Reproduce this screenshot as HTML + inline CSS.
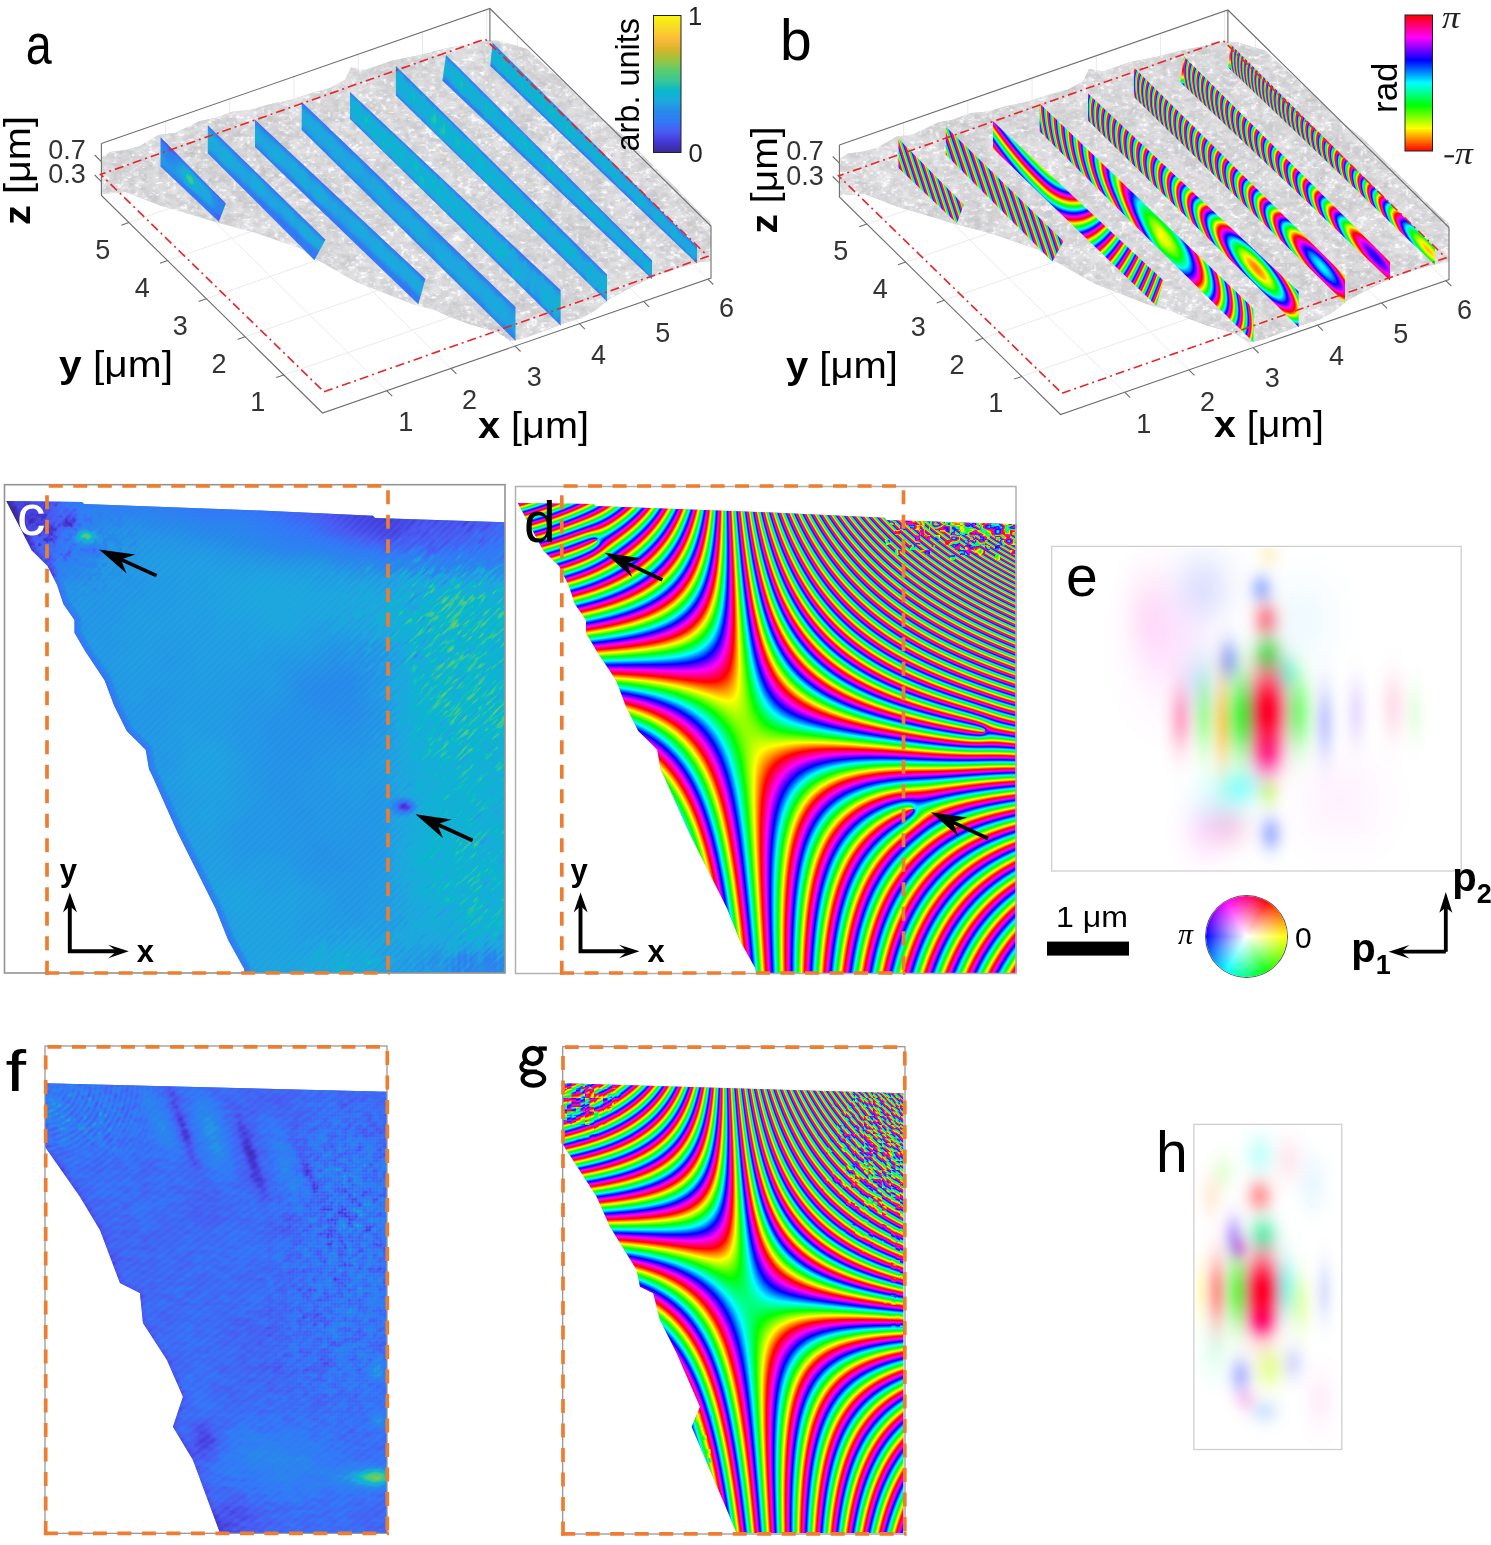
<!DOCTYPE html><html><head><meta charset="utf-8"><title>fig</title><style>html,body{margin:0;padding:0;background:#fff}#wrap{position:relative;width:1491px;height:1545px;overflow:hidden;background:#fff}#wrap>svg,#wrap>canvas,#wrap>div{position:absolute;left:0;top:0}.t{font-family:"Liberation Sans",sans-serif}</style></head><body><div id="wrap"><svg width="1491" height="1545"><g id="boxbase"><path d="M386.7,390.7L165.6,173.2M450.9,368.4L229.8,150.9M515.1,346.1L294.0,128.6M579.4,323.7L358.3,106.2M643.6,301.4L422.5,83.9M707.8,279.1L486.7,61.6M283.8,374.9L672.3,239.9M245.1,336.8L633.6,201.8M206.3,298.7L594.8,163.7M167.6,260.6L556.1,125.6M128.9,222.5L517.4,87.5M165.6,173.2v-52.0M229.8,150.9v-52.0M294.0,128.6v-52.0M358.3,106.2v-52.0M422.5,83.9v-52.0M486.7,61.6v-52.0M672.3,239.9v-52.0M633.6,201.8v-52.0M594.8,163.7v-52.0M556.1,125.6v-52.0M517.4,87.5v-52.0" stroke="#eaeaea" stroke-width="1" fill="none"/></g><use href="#boxbase" transform="translate(738,1.5)"/><polygon points="101.0,158.0 110.0,152.0 125.7,150.0 140.0,146.0 158.7,135.0 175.0,133.0 200.0,121.0 215.0,118.0 233.0,111.5 250.0,110.0 268.7,104.6 290.0,100.0 310.0,93.6 330.0,88.0 345.0,80.0 351.0,67.5 365.0,70.0 392.5,60.6 420.0,55.0 447.5,48.0 470.0,44.0 488.7,40.0 500.0,41.0 527.0,49.0 551.0,71.0 576.0,93.0 600.0,117.5 625.0,137.0 649.0,161.6 674.0,186.0 698.0,210.5 710.5,222.0 711.0,261.0 700.0,262.0 680.0,267.6 655.0,276.0 632.0,287.0 610.0,298.6 595.8,310.0 581.7,318.0 562.0,324.0 548.0,329.6 525.0,338.0 511.0,341.0 497.0,332.0 469.0,324.0 446.5,315.5 435.0,310.0 412.7,304.0 384.5,293.0 356.0,281.7 331.0,267.6 311.0,256.0 300.0,248.0 285.0,243.0 255.0,232.5 219.0,223.0 186.0,213.0 158.7,205.0 125.7,192.0 101.0,194.0" fill="#d6d6d6"/><polygon points="101.0,158.0 110.0,152.0 125.7,150.0 140.0,146.0 158.7,135.0 175.0,133.0 200.0,121.0 215.0,118.0 233.0,111.5 250.0,110.0 268.7,104.6 290.0,100.0 310.0,93.6 330.0,88.0 345.0,80.0 351.0,67.5 365.0,70.0 392.5,60.6 420.0,55.0 447.5,48.0 470.0,44.0 488.7,40.0 500.0,41.0 527.0,49.0 551.0,71.0 576.0,93.0 600.0,117.5 625.0,137.0 649.0,161.6 674.0,186.0 698.0,210.5 710.5,222.0 711.0,261.0 700.0,262.0 680.0,267.6 655.0,276.0 632.0,287.0 610.0,298.6 595.8,310.0 581.7,318.0 562.0,324.0 548.0,329.6 525.0,338.0 511.0,341.0 497.0,332.0 469.0,324.0 446.5,315.5 435.0,310.0 412.7,304.0 384.5,293.0 356.0,281.7 331.0,267.6 311.0,256.0 300.0,248.0 285.0,243.0 255.0,232.5 219.0,223.0 186.0,213.0 158.7,205.0 125.7,192.0 101.0,194.0" fill="#d6d6d6" transform="translate(738,1.5)"/><polygon points="160.5,137.2 160.5,166.4 218.8,221.7 225.9,203.6" fill="#2a92e4"/><polygon points="160.5,137.2 160.5,166.4 218.8,221.7 225.9,203.6" fill="#9a8aa8" transform="translate(738,1.5)"/><polygon points="207.8,125.2 207.8,153.3 314.4,260.0 325.5,239.8" fill="#2a92e4"/><polygon points="207.8,125.2 207.8,153.3 314.4,260.0 325.5,239.8" fill="#9a8aa8" transform="translate(738,1.5)"/><polygon points="255.0,119.7 255.0,147.0 418.3,304.2 425.4,278.9" fill="#2a92e4"/><polygon points="255.0,119.7 255.0,147.0 418.3,304.2 425.4,278.9" fill="#9a8aa8" transform="translate(738,1.5)"/><polygon points="301.7,101.9 301.7,130.0 515.5,340.8 515.5,307.0" fill="#2a92e4"/><polygon points="301.7,101.9 301.7,130.0 515.5,340.8 515.5,307.0" fill="#9a8aa8" transform="translate(738,1.5)"/><polygon points="350.0,92.0 350.0,119.0 560.6,325.4 560.6,290.0" fill="#2a92e4"/><polygon points="350.0,92.0 350.0,119.0 560.6,325.4 560.6,290.0" fill="#9a8aa8" transform="translate(738,1.5)"/><polygon points="395.9,66.1 395.9,95.5 607.0,301.4 607.0,274.6" fill="#2a92e4"/><polygon points="395.9,66.1 395.9,95.5 607.0,301.4 607.0,274.6" fill="#9a8aa8" transform="translate(738,1.5)"/><polygon points="446.0,55.0 442.4,80.8 652.0,278.9 652.0,260.6" fill="#2a92e4"/><polygon points="446.0,55.0 442.4,80.8 652.0,278.9 652.0,260.6" fill="#9a8aa8" transform="translate(738,1.5)"/><polygon points="492.6,42.8 490.2,66.1 697.0,263.4 697.0,246.5" fill="#2a92e4"/><polygon points="492.6,42.8 490.2,66.1 697.0,263.4 697.0,246.5" fill="#9a8aa8" transform="translate(738,1.5)"/><polygon points="6.3,501.0 82.0,502.0 84.0,504.0 260.0,510.6 373.0,515.8 375.0,518.0 505.0,522.3 505.0,973.0 244.5,973.0 244.1,968.8 228.3,940.2 215.6,908.5 196.6,870.5 177.6,832.4 152.2,775.4 149.0,769.0 145.8,750.0 139.5,743.6 126.8,731.0 114.1,705.6 104.6,680.2 85.6,651.7 74.5,632.7 74.5,620.0 63.4,604.1 57.1,585.1 47.6,566.1 31.7,550.2" fill="#2b9ae0"/><polygon points="517.8,503.0 593.5,504.0 595.5,506.0 771.5,512.6 884.5,517.8 886.5,520.0 1016.5,524.3 1016.5,973.0 756.0,973.0 755.6,968.8 739.8,940.2 727.1,908.5 708.1,870.5 689.1,832.4 663.7,775.4 660.5,769.0 657.3,750.0 651.0,743.6 638.3,731.0 625.6,705.6 616.1,680.2 597.1,651.7 586.0,632.7 586.0,620.0 574.9,604.1 568.6,585.1 559.1,566.1 543.2,550.2" fill="#a890a0"/><polygon points="45.0,1083.3 386.7,1091.7 386.7,1533.0 220.0,1533.0 193.0,1460.0 173.0,1426.7 183.0,1396.7 167.0,1360.0 143.0,1323.0 140.0,1293.0 120.0,1283.0 100.0,1230.0 80.0,1196.7 45.0,1146.7" fill="#3f70e8"/><polygon points="563.3,1083.3 903.3,1093.3 903.3,1533.0 736.7,1533.0 710.0,1470.0 691.7,1426.7 700.0,1406.7 676.7,1353.3 660.0,1320.0 653.3,1293.3 640.0,1286.7 636.7,1270.0 610.0,1226.7 596.7,1196.7 563.3,1145.0" fill="#a890a0"/></svg><canvas id="cv" width="1491" height="1545"></canvas><svg width="1491" height="1545" style="z-index:3"><defs><linearGradient id="gpar" x1="0" y1="1" x2="0" y2="0"><stop offset="0" stop-color="rgb(60,42,149)"/><stop offset="0.08" stop-color="rgb(68,56,216)"/><stop offset="0.15" stop-color="rgb(74,90,242)"/><stop offset="0.22" stop-color="rgb(51,120,248)"/><stop offset="0.3" stop-color="rgb(40,137,234)"/><stop offset="0.37" stop-color="rgb(31,166,224)"/><stop offset="0.45" stop-color="rgb(8,184,204)"/><stop offset="0.52" stop-color="rgb(53,199,154)"/><stop offset="0.6" stop-color="rgb(92,204,110)"/><stop offset="0.68" stop-color="rgb(159,196,62)"/><stop offset="0.75" stop-color="rgb(212,181,42)"/><stop offset="0.82" stop-color="rgb(251,184,56)"/><stop offset="0.9" stop-color="rgb(249,214,42)"/><stop offset="1" stop-color="rgb(249,248,15)"/></linearGradient><linearGradient id="ghsv" x1="0" y1="1" x2="0" y2="0"><stop offset="0.0000" stop-color="#ff0000"/><stop offset="0.1667" stop-color="#ffff00"/><stop offset="0.3333" stop-color="#00ff00"/><stop offset="0.5000" stop-color="#00ffff"/><stop offset="0.6667" stop-color="#0000ff"/><stop offset="0.8333" stop-color="#ff00ff"/><stop offset="1.0000" stop-color="#ff0000"/></linearGradient><marker id="ah" viewBox="0 0 10 10" refX="9" refY="5" markerWidth="6" markerHeight="6" orient="auto-start-reverse"><path d="M0,0L10,5L0,10L3,5z" fill="#000"/></marker></defs><g id="boxover"><path d="M101.4,143.5L101.4,195.5L322.5,413.0L711.0,278.0L711.0,226.0L489.9,8.5L101.4,143.5M489.9,8.5v33" stroke="#6e6e6e" stroke-width="1.1" fill="none"/><path d="M386.7,390.7l5.5,5.4M450.9,368.4l5.5,5.4M515.1,346.1l5.5,5.4M579.4,323.7l5.5,5.4M643.6,301.4l5.5,5.4M707.8,279.1l5.5,5.4M283.8,374.9l-7.6,2.7M245.1,336.8l-7.6,2.7M206.3,298.7l-7.6,2.7M167.6,260.6l-7.6,2.7M128.9,222.5l-7.6,2.7M101.4,161.6l-6.7,-6.6M101.4,181.6l-6.7,-6.6" stroke="#6e6e6e" stroke-width="1.1" fill="none"/><polygon points="324.0,391.8 708.0,256.3 485.0,39.0 100.6,174.4" fill="none" stroke="#e8262a" stroke-width="1.6" stroke-dasharray="9,4,2,4"/><text x="405.7" y="431.0" text-anchor="middle" style="font-family:Liberation Sans,sans-serif;fill:#333;font-size:27px">1</text><text x="469.4" y="409.0" text-anchor="middle" style="font-family:Liberation Sans,sans-serif;fill:#333;font-size:27px">2</text><text x="534.2" y="385.8" text-anchor="middle" style="font-family:Liberation Sans,sans-serif;fill:#333;font-size:27px">3</text><text x="598.6" y="363.7" text-anchor="middle" style="font-family:Liberation Sans,sans-serif;fill:#333;font-size:27px">4</text><text x="662.7" y="341.7" text-anchor="middle" style="font-family:Liberation Sans,sans-serif;fill:#333;font-size:27px">5</text><text x="726.4" y="317.2" text-anchor="middle" style="font-family:Liberation Sans,sans-serif;fill:#333;font-size:27px">6</text><text x="257.7" y="410.5" text-anchor="middle" style="font-family:Liberation Sans,sans-serif;fill:#333;font-size:27px">1</text><text x="219" y="372.5" text-anchor="middle" style="font-family:Liberation Sans,sans-serif;fill:#333;font-size:27px">2</text><text x="180.3" y="334.5" text-anchor="middle" style="font-family:Liberation Sans,sans-serif;fill:#333;font-size:27px">3</text><text x="142.3" y="296.5" text-anchor="middle" style="font-family:Liberation Sans,sans-serif;fill:#333;font-size:27px">4</text><text x="102.8" y="258.5" text-anchor="middle" style="font-family:Liberation Sans,sans-serif;fill:#333;font-size:27px">5</text><text x="67" y="158.6" text-anchor="middle" style="font-family:Liberation Sans,sans-serif;fill:#333;font-size:27px">0.7</text><text x="67" y="183" text-anchor="middle" style="font-family:Liberation Sans,sans-serif;fill:#333;font-size:27px">0.3</text></g><use href="#boxover" transform="translate(738,1.5)"/><text x="478" y="438" style="font-family:Liberation Sans,sans-serif;fill:#000;font-size:36px" textLength="111" lengthAdjust="spacingAndGlyphs"><tspan font-weight="bold">x</tspan> [μm]</text><text x="59" y="377" style="font-family:Liberation Sans,sans-serif;fill:#000;font-size:36px" textLength="114" lengthAdjust="spacingAndGlyphs"><tspan font-weight="bold">y</tspan> [μm]</text><text transform="translate(29.5,225) rotate(-90)" style="font-family:Liberation Sans,sans-serif;fill:#000;font-size:36px" textLength="109" lengthAdjust="spacingAndGlyphs"><tspan font-weight="bold">z</tspan> [μm]</text><text x="1214" y="437" style="font-family:Liberation Sans,sans-serif;fill:#000;font-size:36px" textLength="110" lengthAdjust="spacingAndGlyphs"><tspan font-weight="bold">x</tspan> [μm]</text><text x="786" y="378" style="font-family:Liberation Sans,sans-serif;fill:#000;font-size:36px" textLength="112" lengthAdjust="spacingAndGlyphs"><tspan font-weight="bold">y</tspan> [μm]</text><text transform="translate(776.5,233.5) rotate(-90)" style="font-family:Liberation Sans,sans-serif;fill:#000;font-size:36px" textLength="107" lengthAdjust="spacingAndGlyphs"><tspan font-weight="bold">z</tspan> [μm]</text><rect x="653.5" y="15.5" width="27.5" height="137" fill="url(#gpar)" stroke="#222" stroke-width="1"/><text x="688" y="24.8" class="t" style="font-size:25.5px;fill:#222">1</text><text x="688.5" y="161.5" class="t" style="font-size:25.5px;fill:#222">0</text><text class="t" transform="translate(639,151.5) rotate(-90)" style="font-size:33px;fill:#000" textLength="133.5" lengthAdjust="spacingAndGlyphs">arb. units</text><rect x="1405" y="15" width="27.5" height="136" fill="url(#ghsv)" stroke="#222" stroke-width="1"/><text x="0" y="0" transform="translate(1442,27.7) scale(1.15,1)" style="font-family:Liberation Serif,serif;font-style:italic;font-size:31px;fill:#222">π</text><rect x="1444.4" y="155.2" width="9.6" height="2.2" fill="#222"/><text x="0" y="0" transform="translate(1455,164.2) scale(1.15,1)" style="font-family:Liberation Serif,serif;font-style:italic;font-size:31px;fill:#222">π</text><text class="t" transform="translate(1397,113) rotate(-90)" style="font-size:35px;fill:#000">rad</text><text x="0" y="0" transform="translate(25.8,64) scale(0.82,1)" style="font-family:Liberation Sans,sans-serif;font-size:57px;fill:#000">a</text><text x="780" y="60" style="font-family:Liberation Sans,sans-serif;font-size:57px;fill:#000">b</text><text x="17" y="535" style="font-family:Liberation Sans,sans-serif;font-size:57px;fill:#000;fill:#fff">c</text><text x="524" y="542" style="font-family:Liberation Sans,sans-serif;font-size:57px;fill:#000">d</text><text x="1066" y="596" style="font-family:Liberation Sans,sans-serif;font-size:57px;fill:#000">e</text><text x="0" y="0" transform="translate(5.5,1090.5) scale(1.3,1)" style="font-family:Liberation Sans,sans-serif;font-size:57px;fill:#000">f</text><g fill="none" stroke="#000"><ellipse cx="532.8" cy="1056" rx="8.4" ry="8" stroke-width="4.6"/><ellipse cx="533.4" cy="1078.8" rx="10.8" ry="6.8" stroke-width="4.2"/><path d="M525,1061.8C519.8,1065 519.8,1070.5 527,1071.2L537,1071.4" stroke-width="4"/></g><rect x="538.5" y="1046.4" width="8.3" height="4.3" fill="#000"/><text x="1156" y="1172" style="font-family:Liberation Sans,sans-serif;font-size:57px;fill:#000">h</text><rect x="4.5" y="484.7" width="500.5" height="488.3" fill="none" stroke="#939393" stroke-width="1.6"/><rect x="515.5" y="486.5" width="500.5" height="487" fill="none" stroke="#b0b0b0" stroke-width="1.5"/><rect x="1051.7" y="546.4" width="409.5" height="324.6" fill="none" stroke="#cfcfcf" stroke-width="1.3"/><rect x="1193.9" y="1124.4" width="147.9" height="325.1" fill="none" stroke="#cfcfcf" stroke-width="1.3"/><rect x="45" y="1046" width="342" height="487.3" fill="none" stroke="#909090" stroke-width="1.2"/><rect x="562.7" y="1046.7" width="342.3" height="487.3" fill="none" stroke="#909090" stroke-width="1.2"/><line x1="48.8" y1="486" x2="388" y2="486" stroke="#ed7d31" stroke-width="3.7" stroke-dasharray="14,10.5" fill="none"/><line x1="388" y1="490.3" x2="388" y2="973" stroke="#ed7d31" stroke-width="3.7" stroke-dasharray="14,10.5" fill="none"/><line x1="45.2" y1="973" x2="389.8" y2="973" stroke="#ed7d31" stroke-width="3.7" stroke-dasharray="14,10.5" fill="none"/><line x1="47" y1="974.8" x2="47" y2="486" stroke="#ed7d31" stroke-width="3.7" stroke-dasharray="14,10.5" fill="none"/><line x1="563.5999999999999" y1="486" x2="903.5" y2="486" stroke="#ed7d31" stroke-width="3.7" stroke-dasharray="14,10.5" fill="none"/><line x1="903.5" y1="490.3" x2="903.5" y2="973" stroke="#ed7d31" stroke-width="3.7" stroke-dasharray="14,10.5" fill="none"/><line x1="560.0" y1="973" x2="905.3" y2="973" stroke="#ed7d31" stroke-width="3.7" stroke-dasharray="14,10.5" fill="none"/><line x1="561.8" y1="974.8" x2="561.8" y2="486" stroke="#ed7d31" stroke-width="3.7" stroke-dasharray="14,10.5" fill="none"/><line x1="47.5" y1="1046.8" x2="387.3" y2="1046.8" stroke="#ed7d31" stroke-width="3.7" stroke-dasharray="14,10.5" fill="none"/><line x1="387.3" y1="1051.1" x2="387.3" y2="1533.3" stroke="#ed7d31" stroke-width="3.7" stroke-dasharray="14,10.5" fill="none"/><line x1="43.900000000000006" y1="1533.3" x2="389.1" y2="1533.3" stroke="#ed7d31" stroke-width="3.7" stroke-dasharray="14,10.5" fill="none"/><line x1="45.7" y1="1535.1" x2="45.7" y2="1046.8" stroke="#ed7d31" stroke-width="3.7" stroke-dasharray="14,10.5" fill="none"/><line x1="564.8" y1="1047.2" x2="904.8" y2="1047.2" stroke="#ed7d31" stroke-width="3.7" stroke-dasharray="14,10.5" fill="none"/><line x1="904.8" y1="1051.5" x2="904.8" y2="1533.8" stroke="#ed7d31" stroke-width="3.7" stroke-dasharray="14,10.5" fill="none"/><line x1="561.2" y1="1533.8" x2="906.5999999999999" y2="1533.8" stroke="#ed7d31" stroke-width="3.7" stroke-dasharray="14,10.5" fill="none"/><line x1="563" y1="1535.6" x2="563" y2="1047.2" stroke="#ed7d31" stroke-width="3.7" stroke-dasharray="14,10.5" fill="none"/><line x1="156.5" y1="575.7" x2="119.1" y2="558.6" stroke="#000" stroke-width="3.6"/><polygon points="99.1,549.4 135.3,554.5 120.9,559.4 126.6,573.4" fill="#000"/><line x1="472.6" y1="840.5" x2="435.5" y2="823.5" stroke="#000" stroke-width="3.6"/><polygon points="415.5,814.3 451.6,819.4 437.3,824.3 443.0,838.3" fill="#000"/><line x1="662.3" y1="579.8" x2="624.7" y2="562.2" stroke="#000" stroke-width="3.6"/><polygon points="604.8,552.8 640.9,558.3 626.5,563.0 632.1,577.1" fill="#000"/><line x1="988" y1="838.5" x2="951.0" y2="821.4" stroke="#000" stroke-width="3.6"/><polygon points="931,812.2 967.1,817.4 952.8,822.3 958.4,836.3" fill="#000"/><path d="M69.8,905.3V951.3H117.8" stroke="#000" stroke-width="3.9" fill="none"/><path d="M69.8,892.5L77.0,912.5L69.8,906.0L63.0,912.5z" fill="#000"/><path d="M128.8,951.3L108.3,958.3L116.6,951.3L108.3,944.8z" fill="#000"/><text x="59.8" y="881.3" style="font-family:Liberation Sans,sans-serif;font-weight:bold;font-size:31px">y</text><text x="136.8" y="961.8" style="font-family:Liberation Sans,sans-serif;font-weight:bold;font-size:31px">x</text><path d="M580.5,905.3V951.3H628.5" stroke="#000" stroke-width="3.9" fill="none"/><path d="M580.5,892.5L587.7,912.5L580.5,906.0L573.7,912.5z" fill="#000"/><path d="M639.5,951.3L619.0,958.3L627.3,951.3L619.0,944.8z" fill="#000"/><text x="570.5" y="881.3" style="font-family:Liberation Sans,sans-serif;font-weight:bold;font-size:31px">y</text><text x="647.5" y="961.8" style="font-family:Liberation Sans,sans-serif;font-weight:bold;font-size:31px">x</text><rect x="1047" y="941.6" width="82" height="14" fill="#000"/><text x="1056" y="927" style="font-family:Liberation Sans,sans-serif;font-size:29px" textLength="72" lengthAdjust="spacingAndGlyphs">1 μm</text><text x="1178" y="944" style="font-family:Liberation Serif,serif;font-style:italic;font-size:30px">π</text><text x="1295" y="948" style="font-family:Liberation Sans,sans-serif;font-size:30px">0</text><path d="M1445.8,951.7V906M1445.8,951.7H1398" stroke="#000" stroke-width="3.8" fill="none"/><path d="M1445.8,891.9L1452.3,912.7L1445.8,907.6L1439.3,912.7z" fill="#000"/><path d="M1388.6,951.7L1409.4,944.9L1400.8,951.7L1409.4,958.5z" fill="#000"/><text x="1452.3" y="890.8" style="font-family:Liberation Sans,sans-serif;font-weight:bold;font-size:40px">p<tspan font-size="27" dy="12">2</tspan></text><text x="1351.2" y="961.7" style="font-family:Liberation Sans,sans-serif;font-weight:bold;font-size:40px">p<tspan font-size="27" dy="12.3">1</tspan></text></svg><div style="left:1206.4px;top:895.9px;width:80.8px;height:80.8px;border-radius:50%;background:radial-gradient(circle,#fff 0%,rgba(255,255,255,0.6) 30%,rgba(255,255,255,0) 72%),conic-gradient(hsl(330,100%,50%) 0deg,hsl(345,100%,50%) 15deg,hsl(0,100%,50%) 30deg,hsl(15,100%,50%) 45deg,hsl(30,100%,50%) 60deg,hsl(45,100%,50%) 75deg,hsl(60,100%,50%) 90deg,hsl(75,100%,50%) 105deg,hsl(90,100%,50%) 120deg,hsl(105,100%,50%) 135deg,hsl(120,100%,50%) 150deg,hsl(135,100%,50%) 165deg,hsl(150,100%,50%) 180deg,hsl(165,100%,50%) 195deg,hsl(180,100%,50%) 210deg,hsl(195,100%,50%) 225deg,hsl(210,100%,50%) 240deg,hsl(225,100%,50%) 255deg,hsl(240,100%,50%) 270deg,hsl(255,100%,50%) 285deg,hsl(270,100%,50%) 300deg,hsl(285,100%,50%) 315deg,hsl(300,100%,50%) 330deg,hsl(315,100%,50%) 345deg,hsl(330,100%,50%) 360deg);box-shadow:0 0 0 1px #555;z-index:2"></div><script>var G={"surf": [[101, 158], [110, 152], [125.7, 150], [140, 146], [158.7, 135], [175, 133], [200, 121], [215, 118], [233, 111.5], [250, 110], [268.7, 104.6], [290, 100], [310, 93.6], [330, 88], [345, 80], [351, 67.5], [365, 70], [392.5, 60.6], [420, 55], [447.5, 48], [470, 44], [488.7, 40], [500, 41], [527, 49], [551, 71], [576, 93], [600, 117.5], [625, 137], [649, 161.6], [674, 186], [698, 210.5], [710.5, 222], [711, 261], [700, 262], [680, 267.6], [655, 276], [632, 287], [610, 298.6], [595.8, 310], [581.7, 318], [562, 324], [548, 329.6], [525, 338], [511, 341], [497, 332], [469, 324], [446.5, 315.5], [435, 310], [412.7, 304], [384.5, 293], [356, 281.7], [331, 267.6], [311, 256], [300, 248], [285, 243], [255, 232.5], [219, 223], [186, 213], [158.7, 205], [125.7, 192], [101, 194]], "slices": [[[160.5, 137.2], [160.5, 166.4], [218.8, 221.7], [225.9, 203.6]], [[207.8, 125.2], [207.8, 153.3], [314.4, 260], [325.5, 239.8]], [[255, 119.7], [255, 147], [418.3, 304.2], [425.4, 278.9]], [[301.7, 101.9], [301.7, 130], [515.5, 340.8], [515.5, 307]], [[350, 92], [350, 119], [560.6, 325.4], [560.6, 290]], [[395.9, 66.1], [395.9, 95.5], [607, 301.4], [607, 274.6]], [[446, 55], [442.4, 80.8], [652, 278.9], [652, 260.6]], [[492.6, 42.8], [490.2, 66.1], [697, 263.4], [697, 246.5]]], "shapeC": [[6.3, 501], [82, 502], [84, 504], [260, 510.6], [373, 515.8], [375, 518], [505, 522.3], [505, 973], [244.5, 973], [244.1, 968.8], [228.3, 940.2], [215.6, 908.5], [196.6, 870.5], [177.6, 832.4], [152.2, 775.4], [149, 769], [145.8, 750], [139.5, 743.6], [126.8, 731], [114.1, 705.6], [104.6, 680.2], [85.6, 651.7], [74.5, 632.7], [74.5, 620], [63.4, 604.1], [57.1, 585.1], [47.6, 566.1], [31.7, 550.2]], "shapeD": [[517.8, 503], [593.5, 504], [595.5, 506], [771.5, 512.6], [884.5, 517.8], [886.5, 520], [1016.5, 524.3], [1016.5, 973], [756.0, 973], [755.6, 968.8], [739.8, 940.2], [727.1, 908.5], [708.1, 870.5], [689.1, 832.4], [663.7, 775.4], [660.5, 769], [657.3, 750], [651.0, 743.6], [638.3, 731], [625.6, 705.6], [616.1, 680.2], [597.1, 651.7], [586.0, 632.7], [586.0, 620], [574.9, 604.1], [568.6, 585.1], [559.1, 566.1], [543.2, 550.2]], "shapeF": [[45, 1083.3], [386.7, 1091.7], [386.7, 1533], [220, 1533], [193, 1460], [173, 1426.7], [183, 1396.7], [167, 1360], [143, 1323], [140, 1293], [120, 1283], [100, 1230], [80, 1196.7], [45, 1146.7]], "shapeG": [[563.3, 1083.3], [903.3, 1093.3], [903.3, 1533], [736.7, 1533], [710, 1470], [691.7, 1426.7], [700, 1406.7], [676.7, 1353.3], [660, 1320], [653.3, 1293.3], [640, 1286.7], [636.7, 1270], [610, 1226.7], [596.7, 1196.7], [563.3, 1145]], "BX": 738, "BY": 1.5};
// ---------- utilities ----------
function hash(ix,iy,s){var h=ix*374761393+iy*668265263+s*1442695041;h=(h^(h>>>13))*1274126177;h=h^(h>>>16);return (h>>>0)/4294967296;}
function vnoise(x,y,s){var ix=Math.floor(x),iy=Math.floor(y),fx=x-ix,fy=y-iy;fx=fx*fx*(3-2*fx);fy=fy*fy*(3-2*fy);
 var a=hash(ix,iy,s),b=hash(ix+1,iy,s),c=hash(ix,iy+1,s),d=hash(ix+1,iy+1,s);
 return a+(b-a)*fx+(c-a)*fy+(a-b-c+d)*fx*fy;}
function fbm(x,y,s,o){var t=0,a=1,n=0;for(var i=0;i<o;i++){t+=a*vnoise(x,y,s+i*17);n+=a;a*=0.5;x*=2.03;y*=2.03;}return t/n;}
var PAR=[[0,60,42,149],[0.08,68,56,216],[0.15,74,90,242],[0.22,51,120,248],[0.3,40,137,234],[0.37,31,166,224],[0.45,8,184,204],[0.52,53,199,154],[0.6,92,204,110],[0.68,159,196,62],[0.75,212,181,42],[0.82,251,184,56],[0.9,249,214,42],[1,249,248,15]];
function parula(v){if(v<=0)return PAR[0].slice(1);if(v>=1)return PAR[PAR.length-1].slice(1);
 for(var i=1;i<PAR.length;i++){if(v<=PAR[i][0]){var a=PAR[i-1],b=PAR[i],t=(v-a[0])/(b[0]-a[0]);return [a[1]+(b[1]-a[1])*t,a[2]+(b[2]-a[2])*t,a[3]+(b[3]-a[3])*t];}}}
function hsv(h){h=((h%360)+360)%360/60;var i=Math.floor(h),f=h-i,q=1-f;
 switch(i){case 0:return[255,255*f,0];case 1:return[255*q,255,0];case 2:return[0,255,255*f];case 3:return[0,255*q,255];case 4:return[255*f,0,255];default:return[255,0,255*q];}}
function makeLayer(x0,y0,w,h,fn){var c=document.createElement('canvas');c.width=w;c.height=h;var g=c.getContext('2d');var im=g.createImageData(w,h);var d=im.data;
 for(var j=0;j<h;j++)for(var i=0;i<w;i++){var col=fn(x0+i+0.5,y0+j+0.5);var k=(j*w+i)*4;d[k]=col[0];d[k+1]=col[1];d[k+2]=col[2];d[k+3]=col.length>3?col[3]:255;}
 g.putImageData(im,0,0);return c;}
function clipDraw(ctx,poly,layer,x0,y0){ctx.save();ctx.beginPath();ctx.moveTo(poly[0][0],poly[0][1]);for(var i=1;i<poly.length;i++)ctx.lineTo(poly[i][0],poly[i][1]);ctx.closePath();ctx.clip();ctx.drawImage(layer,x0,y0);ctx.restore();}
(function(){
var cv=document.getElementById('cv');var ctx=cv.getContext('2d');
function gb(x,y,cx,cy,rx,ry){var a=(x-cx)/rx,b=(y-cy)/ry;return Math.exp(-0.5*(a*a+b*b));}
// left-edge distance helper: polygon edge list distance
function segd(px,py,ax,ay,bx,by){var dx=bx-ax,dy=by-ay;var t=((px-ax)*dx+(py-ay)*dy)/(dx*dx+dy*dy);t=t<0?0:t>1?1:t;var qx=ax+t*dx-px,qy=ay+t*dy-py;return Math.sqrt(qx*qx+qy*qy);}
function edgeDist(x,y,poly,i0,i1){var m=1e9;for(var i=i0;i<i1;i++){var a=poly[i],b=poly[(i+1)%poly.length];var d=segd(x,y,a[0],a[1],b[0],b[1]);if(d<m)m=d;}return m;}
// ---------------- panel c ----------------
(function(){var poly=G.shapeC;var n=poly.length;
 var L=makeLayer(0,495,510,480,function(x,y){
  var ytop=501+(x-6.3)*(21.3/499);
  var v=0.345;
  v+=0.06*(fbm(x/70,y/70,3,3)-0.5);
  // top band darker
  v-=0.13*Math.exp(-(y-ytop)/22)*(0.6+0.4*Math.min(1,x/300));
  v-=0.16*gb(x,y,465,545,70,28);
  v-=0.10*gb(x,y,360,532,70,18);
  v+=0.04*gb(x,y,320,600,80,40);
  v-=0.18*gb(x,y,22,515,28,22);
  v-=0.1*gb(x,y,50,545,25,22);
  v-=0.12*Math.max(0,fbm(x/5,y/5,17,2)-0.5)*gb(x,y,60,540,40,30)*3;
  v+=0.26*gb(x,y,86,536,5,3.5)+0.08*gb(x,y,80,540,12,6);
  v-=0.10*gb(x,y,92,550,8,4);
  v-=0.12*gb(x,y,70,522,5,4);
  // speckled right region
  var aa=(x-y)*0.7071,bb=(x+y)*0.7071;
  var st=fbm(aa/10,bb/2.2,11,2), st2=fbm(aa/14,bb/3,13,2);
  var rm=Math.min(1,Math.max(0,(x-385)/30));
  var ms=gb(x,y,455,610,60,45)+0.8*gb(x,y,470,720,45,40)+0.6*gb(x,y,480,880,40,70)+0.6*gb(x,y,355,955,30,18);
  v+=rm*0.05;
  v+=ms*(0.05+0.55*Math.max(0,st-0.52));
  v-=rm*0.22*Math.max(0,0.42-st2)*(0.5+ms);
  var sp=st;
  v-=0.04*gb(x,y,330,690,60,50);
  v-=0.14*gb(x,y,485,965,40,14)*(0.6+0.8*(fbm(x/3,y/30,5,1)));
  v-=0.32*gb(x,y,404.6,806.6,6.5,4.5);
  // ripples
  var r=Math.sin((x*0.7+y*0.72)*1.15);v+=0.018*r*(0.5+ms);
  var ed=edgeDist(x,y,poly,8,n); if(ed<8)v-=0.14*(1-ed/8);
  return parula(v);});
 clipDraw(ctx,poly,L,0,495);})();
// ---------------- panel f ----------------
(function(){var poly=G.shapeF;var n=poly.length;
 var L=makeLayer(40,1080,350,455,function(x,y){
  var v=0.185+0.05*(fbm(x/50,y/50,7,3)-0.5)+0.07*(fbm(x/9,y/4,9,2)-0.5);
  // diagonal light / dark streaks near top
  function streak(cx,cy,len,wid,ang,dv){var c=Math.cos(ang),s=Math.sin(ang);var u=(x-cx)*c+(y-cy)*s,w=-(x-cx)*s+(y-cy)*c;return dv*Math.exp(-0.5*(u*u/(len*len)+w*w/(wid*wid)));}
  v+=streak(159.6,1122,26,8,1.22,0.10);
  v+=streak(212.8,1134,30,9,1.22,0.13);
  v+=streak(285.7,1166,28,8,1.22,0.07);
  v-=streak(183.9,1130,26,3.5,1.25,0.11);
  v-=streak(251,1156,28,4,1.25,0.12);
  v-=streak(308.9,1174,28,4,1.25,0.09);
  v+=streak(280,1460,40,20,0.3,0.05);
  var sp=fbm(x/5,y/5,13,2);
  var mt=gb(x,y,85,1115,40,28); v+=mt*(0.04+0.35*Math.max(0,sp-0.48)+0.05*Math.sin(Math.sqrt((x-40)*(x-40)+(y-1080)*(y-1080))*1.2));
  var mr=gb(x,y,350,1200,40,60)+0.6*gb(x,y,340,1330,45,60); var cr=Math.sin((x+y)*0.9)*Math.sin((x-y)*0.9); v+=mr*(0.3*(sp-0.5)+0.05*cr+0.04);
  v+=0.34*gb(x,y,378,1477,11,5)+0.16*gb(x,y,362,1478,16,7);
  v+=0.15*gb(x,y,378,1370,6,6)+0.12*gb(x,y,378,1420,6,6);
  v-=0.09*gb(x,y,205,1440,9,14);
  v+=0.05*gb(x,y,300,1470,50,30);
  v-=0.06*gb(x,y,230,1520,20,15);
  var r=Math.sin((x*0.6+y*0.8)*1.0);v+=0.012*r;
  var ed=edgeDist(x,y,poly,n-11,n); if(ed<6)v-=0.05*(1-ed/6);
  return parula(v);});
 clipDraw(ctx,poly,L,40,1080);})();
// ---------------- phase panels d, g ----------------
function phase(x,y,cx,cy,P){var dx=x-cx,dy=y-cy;
  var g=P.gs*dy;
  var fl=-P.fa*(1-Math.exp(dx/P.fa)), fr=P.fe*dx; var s=1/(1+Math.exp(dx/12));
  var f=s*fl+(1-s)*fr;
  var k=P.k0*Math.exp(-dy/P.D)*(dx<0?Math.exp(dx/P.Dx):1);
  return -(dx-g)*(dy-f)*k;}
var PD={gs:0.07,fa:60,fe:0.08,k0:0.0022,D:500,Dx:450,h0:111};
(function(){var poly=G.shapeD;var V=[[913,809,1],[597,540,-1],[985,731,1]];var L=makeLayer(515,495,502,480,function(x,y){
  var r=0,gg=0,b=0;for(var a=0;a<2;a++)for(var c=0;c<2;c++){var xx=x+(a-0.5)*0.5,yy=y+(c-0.5)*0.5;
  var h=PD.h0+phase(xx,yy,752,732,PD)*180/Math.PI;
  for(var k=0;k<V.length;k++)h+=V[k][2]*Math.atan2(yy-V[k][1],xx-V[k][0])*180/Math.PI;
  var m=Math.min(1,Math.max(0,(565-yy)/35))*Math.min(1,Math.max(0,(xx-880)/70));
  if(m>0.05){var bx=Math.floor(xx/5),by=Math.floor(yy/5);if(hash(bx,by,91)<m*0.85)h=fbm(xx/9,yy/7,93,2)*900+hash(bx,by,92)*90;}
  var col=hsv(h);r+=col[0];gg+=col[1];b+=col[2];}
  return [r/4,gg/4,b/4];});clipDraw(ctx,poly,L,515,495);})();
var PG={gs:0.07,fa:60,fe:0.08,k0:0.0029,D:500,Dx:380,h0:150};
(function(){var poly=G.shapeG;var L=makeLayer(560,1080,346,455,function(x,y){
  var r=0,gg=0,b=0;for(var a=0;a<2;a++)for(var c=0;c<2;c++){var xx=x+(a-0.5)*0.5,yy=y+(c-0.5)*0.5;
  var h=PG.h0+phase(xx,yy,748,1302,PG)*180/Math.PI;
  var m=Math.min(1,1.2*gb(xx,yy,885,1140,30,55)+1.0*gb(xx,yy,580,1100,22,20)+0.35*gb(xx,yy,898,1290,8,40)+0.35*gb(xx,yy,703,1460,8,40));
  if(m>0.08){var bx=Math.floor(xx/4.5),by=Math.floor(yy/4.5);var rn=hash(bx,by,77);if(rn<m*0.8)h=h+(hash(bx,by,78)-0.5)*360*m+(fbm(xx/10,yy/10,79,1)-0.5)*200*m;}
  var col=hsv(h);r+=col[0];gg+=col[1];b+=col[2];}
  return [r/4,gg/4,b/4];});clipDraw(ctx,poly,L,560,1080);})();
// ---------------- surfaces a, b ----------------
function surfTex(x,y){var n=fbm(x/6,y/4,31,3);var n2=fbm(x/25,y/25,37,2);var v=214+40*(n-0.5)+16*(n2-0.5);var hl=fbm(x/3.5,y/2.5,41,2);if(hl>0.58)v+=(hl-0.58)*110;if(v>250)v=250;return [v+1,v,v+2];}
(function(){var poly=G.surf;var L=makeLayer(95,35,625,315,surfTex);clipDraw(ctx,poly,L,95,35);
 var p2=poly.map(function(p){return [p[0]+G.BX,p[1]+G.BY];});var L2=makeLayer(95+G.BX,35,625,318,surfTex);clipDraw(ctx,p2,L2,95+G.BX,35);})();
// ---------------- slices ----------------
function sliceLocal(sl,x,y,dxs){var dys=dxs?G.BY:0;var TL=[sl[0][0]+dxs,sl[0][1]+dys],BL=[sl[1][0]+dxs,sl[1][1]+dys],BR=[sl[2][0]+dxs,sl[2][1]+dys],TR=[sl[3][0]+dxs,sl[3][1]+dys];
 var ex=TR[0]-TL[0],ey=TR[1]-TL[1];var Ln=Math.sqrt(ex*ex+ey*ey);var u=((x-TL[0])/(ex));if(u<0)u=0;if(u>1)u=1;
 var yt=TL[1]+ey*u;var hb=BL[1]-TL[1],hf=BR[1]-TR[1];var h=hb+(hf-hb)*u;return {s:u*Ln,t:(y-yt),h:h,L:Ln,u:u};}
function bboxOf(p){var x0=1e9,y0=1e9,x1=-1e9,y1=-1e9;p.forEach(function(q){x0=Math.min(x0,q[0]);y0=Math.min(y0,q[1]);x1=Math.max(x1,q[0]);y1=Math.max(y1,q[1]);});return [Math.floor(x0)-2,Math.floor(y0)-2,Math.ceil(x1)+2,Math.ceil(y1)+2];}
// panel a slices: parula
G.slices.forEach(function(sl,i){var bb=bboxOf(sl);var L=makeLayer(bb[0],bb[1],bb[2]-bb[0],bb[3]-bb[1],function(x,y){
  var q=sliceLocal(sl,x,y,0);var tt=q.t/Math.max(q.h,4);if(tt<0)tt=0;if(tt>1)tt=1;
  var v=0.35+0.06*(fbm(x/8,y/20,50+i,2)-0.5);
  v-=0.2*Math.exp(-tt*10);
  v-=0.13*Math.exp(-(1-tt)*9);
  v+=0.03*Math.sin(tt*3.1);
  if(i>=4)v+=0.05*gb(q.s,q.t,q.L*0.3,q.h*0.5,q.L*0.3,q.h);
  if(i==0)v+=0.15*gb(q.s,q.t,q.L*0.45,q.h*0.5,5,4);
  if(i==0)v-=0.12*gb(q.s,q.t,q.L*0.1,q.h*0.2,10,10)+0.1*gb(q.s,q.t,q.L*0.92,q.h*0.5,8,10);
  v+=0.07*Math.max(0,fbm(x/3,y/12,70+i,1)-0.55)*(i>=4?2:0.5);
  return parula(v);});clipDraw(ctx,sl,L,bb[0],bb[1]);});
// panel b slices: phase
var TAU=2*Math.PI;
var SP=[
 function(s,t,Ln,h){return 0.5*s-0.35*t;},
 function(s,t,Ln,h){return 0.454*s-0.318*t+1;},
 function(s,t,Ln,h){var d=s-Ln*0.3;return (d>0?0.0026:0.0008)*d*d+0.31*t;},
 function(s,t,Ln,h){var d=s-Ln*0.56;var e=t-h*0.5;var ad=Math.abs(d);return 4.4e-4*Math.pow(ad,2.3)+0.006*e*e+(d<0?0.18*t*Math.min(1,-d/60):0);},
 function(s,t,Ln,h){var d=s-Ln*0.80;var e=t-h*0.5;return 0.00207*d*d+0.012*e*e+(30-60)*Math.PI/180;},
 function(s,t,Ln,h){var d=s-Ln*0.89;var e=t-h*0.5;return 0.0021*d*d+0.015*e*e+(180-60)*Math.PI/180;},
 function(s,t,Ln,h){var d=s-Ln*0.93;var e=t-h*0.5;return 0.002*d*d+0.018*e*e+(245-60)*Math.PI/180;},
 function(s,t,Ln,h){var d=s-Ln*0.966;var e=t-h*0.5;return 0.0025*d*d+0.022*e*e+(45-60)*Math.PI/180;}
];
G.slices.forEach(function(sl0,i){var sl=sl0.map(function(p){return [p[0]+G.BX,p[1]+G.BY];});var bb=bboxOf(sl);var L=makeLayer(bb[0],bb[1],bb[2]-bb[0],bb[3]-bb[1],function(x,y){
  var r=0,g=0,b=0;for(var a=0;a<3;a++)for(var c=0;c<3;c++){var xx=x+(a-1)/3,yy=y+(c-1)/3;var q=sliceLocal(sl0,xx,yy,G.BX);var ph=SP[i](q.s,q.t,q.L,q.h);var col=hsv(60+ph*180/Math.PI);r+=col[0];g+=col[1];b+=col[2];}
  return [r/9,g/9,b/9];});clipDraw(ctx,sl,L,bb[0],bb[1]);});
// ---------------- faint panels e, h ----------------
function blobPanel(x0,y0,w,h,blobs,bg){var L=makeLayer(x0,y0,w,h,function(x,y){
  var r=0,g=0,b=0,a=0;for(var i=0;i<blobs.length;i++){var B=blobs[i];var wgt=B[5]*gb(x,y,B[0],B[1],B[2],B[3]);if(wgt<0.003)continue;var c=hsv(B[4]);r+=c[0]*wgt;g+=c[1]*wgt;b+=c[2]*wgt;a+=wgt;}
  var bgw=bg?bg(x,y):0; if(a>1){r/=a;g/=a;b/=a;a=1;}else if(a>0){r/=a;g/=a;b/=a;}
  var s=Math.min(1,a+bgw); if(a==0){r=g=b=255;}
  return [255+(r-255)*s,255+(g-255)*s,255+(b-255)*s];});ctx.drawImage(L,x0,y0);}
blobPanel(1053,548,407,322,[
 [1267.6,711,12,30,350,1.0],[1267.6,756,10,14,320,0.45],[1241.2,715.7,9,28,120,0.65],[1222.6,722,7,30,40,0.5],[1204,718.8,7,25,110,0.35],[1180.7,718.8,8,22,340,0.3],
 [1298.7,712.6,9,25,120,0.45],[1287.8,672,8,12,170,0.3],[1267.6,653.6,10,12,130,0.5],[1266,619.4,9,12,355,0.4],[1261.4,588.3,8,10,225,0.3],[1269,554,8,10,45,0.15],
 [1228.8,659.8,8,14,230,0.3],[1241,787,14,12,180,0.3],[1269,793,8,10,80,0.3],[1270.8,833.8,8,12,230,0.3],[1228.8,827.5,15,15,330,0.15],
 [1325,722,7,25,235,0.2],[1356,712.6,7,22,260,0.12],[1393.5,706.4,8,22,340,0.12],[1415,712.6,6,20,110,0.1],
 [1169.8,644.3,25,40,300,0.1],[1204,588,20,25,230,0.12],[1148,613,15,30,320,0.08],[1222.6,799.6,20,20,180,0.15],[1204,830.7,15,20,300,0.1],
 [1300,620,25,30,200,0.06],[1340,800,30,30,300,0.05],[1200,680,12,20,200,0.15]
],null);
blobPanel(1195,1126,146,323,[
 [1262,1291.5,11,26,350,1.0],[1262,1322.6,9,10,320,0.4],[1237,1291.5,8,24,110,0.6],[1216.6,1291.5,7,24,5,0.4],[1201,1291.5,5,20,60,0.2],[1286,1286.7,8,20,175,0.35],
 [1300.4,1303.5,8,20,80,0.25],[1324.3,1291.5,6,20,230,0.12],[1263.3,1234,10,12,155,0.5],[1259.7,1195.8,9,11,0,0.35],[1259.7,1155,10,14,175,0.2],[1233.4,1236.5,7,14,260,0.3],
 [1240.5,1248.4,6,8,300,0.25],[1269.3,1368,10,14,75,0.35],[1240.5,1375.3,8,12,235,0.25],[1264.5,1411.2,10,9,215,0.15],[1245.3,1399.3,8,9,320,0.15],[1293.2,1363.3,8,12,240,0.12],
 [1211.8,1195.8,8,15,30,0.12],[1223.8,1171.8,8,12,100,0.12],[1288.4,1159.9,10,15,340,0.08],[1312.4,1183.8,10,20,200,0.08],[1215,1350,10,20,150,0.1],[1320,1400,10,20,320,0.06]
],null);
})();
</script></div></body></html>
